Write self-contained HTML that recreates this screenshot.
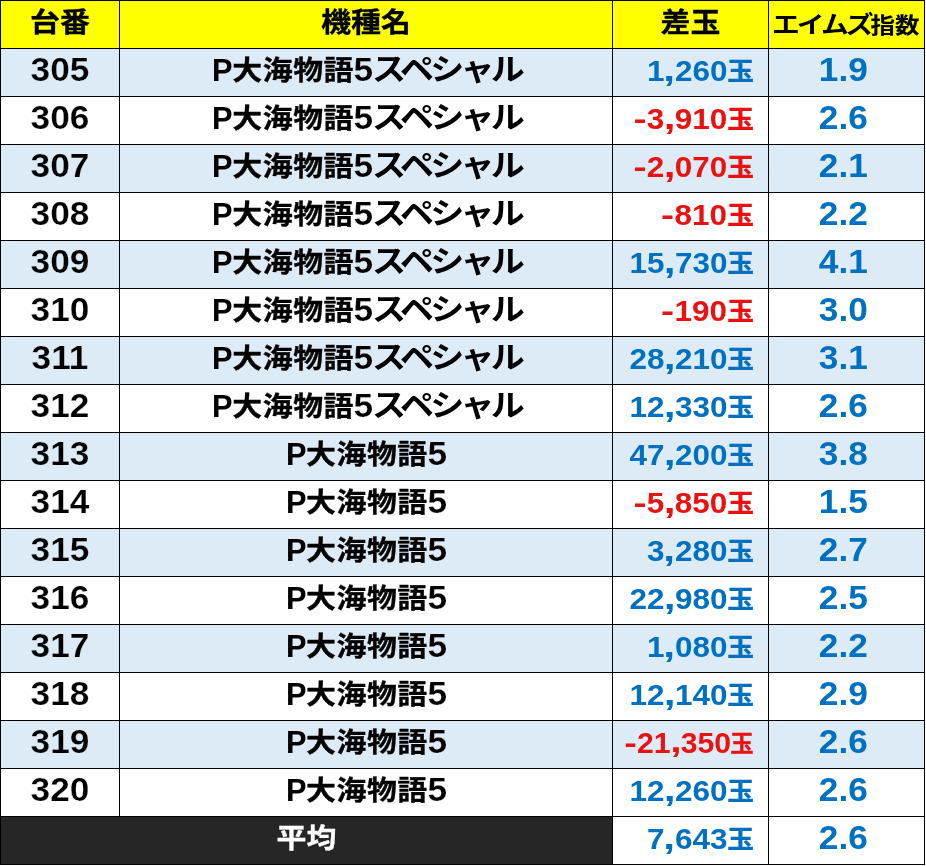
<!DOCTYPE html>
<html lang="ja">
<head>
<meta charset="utf-8">
<title>台番データ</title>
<style>
html,body{margin:0;padding:0;background:#fff;}
body{width:926px;height:866px;overflow:hidden;position:relative;}
#t{position:absolute;left:0;top:0;width:926px;height:866px;background:#fff;
  font-family:"Liberation Sans","Noto Sans CJK JP",sans-serif;font-weight:700;color:#000;}
.r{position:absolute;left:0;width:925px;height:49px;}
.c{position:absolute;top:0;height:49px;box-sizing:border-box;white-space:nowrap;font-size:29.33px;line-height:49px;text-align:center;}
.tx{display:inline-block;vertical-align:top;line-height:49px;height:49px;}
.l{display:inline-block;vertical-align:top;position:relative;top:-3px;font-family:"Liberation Sans",sans-serif;font-weight:700;font-size:1.142em;transform:scaleX(1.052);}
.p{display:inline-block;vertical-align:top;position:relative;top:-2.5px;font-family:"Liberation Sans",sans-serif;font-weight:700;font-size:1.06em;transform:scaleX(0.99);margin:0 -0.01em 0 0.03em;}
.j{display:inline-block;vertical-align:top;position:relative;top:-5.3px;font-family:"Noto Sans CJK JP",sans-serif;font-size:1.02em;transform:scaleY(0.915);transform-origin:50% 75%;-webkit-text-stroke:0.35px currentColor;}
.k{display:inline-block;vertical-align:top;position:relative;top:-6.8px;font-family:"Noto Sans CJK JP",sans-serif;font-size:1.16em;letter-spacing:-0.11em;margin-left:-1.5px;transform:scaleY(0.89);transform-origin:50% 75%;}
.c1{left:0;width:120px;}
.c2{left:119px;width:494px;}
.c3{left:612px;width:157px;}
.c4{left:768px;width:157px;}
.n3{text-align:right;padding-right:15px;font-size:26.2px;color:#0070c0;}
.hy{display:inline-block;transform:scaleX(1.25);margin:0 0.0415em;}
.cm{display:inline-block;transform:scale(1.35,1.12);transform-origin:50% 78%;margin:0 0.03em 0 0.027em;}
.n3 .j{top:-3.9px;}
.n3.sq{font-size:25.15px;}
.n3.sq .l{top:-1.5px;}
.n3.sq .j{transform:scale(0.91,0.93);transform-origin:100% 75%;margin-left:-2.3px;}
.n3 .l{top:-2.5px;}
.h .c4 .j{top:-2.3px;transform:scaleY(0.875);-webkit-text-stroke:0.15px currentColor;}
.h .c4 .k{top:-2.6px;transform:scaleY(0.84);}
.b .c4,.w .c4,.f .c4{color:#0070c0;padding-right:6px;}
.c12{left:0;width:613px;background:#262626;color:#fff;}
.h .c{background:#ffff00;color:#000;}
.h .c4{font-size:24px;}
.b .c{background:#ddebf7;}
.w .c{background:#fff;}
.f .c3,.f .c4{background:#fff;}
.r .neg{color:#ea1111;}
.hl{position:absolute;left:0;width:925px;height:1px;background:#000;}
.vl{position:absolute;top:0;width:1px;height:865px;background:#000;}
.vs{height:817px;}

.b .c1 .l,.b .c2 .l{-webkit-text-stroke:0.2px #ddebf7;}
.w .c1 .l,.w .c2 .l{-webkit-text-stroke:0.2px #fff;}
.b .c2 .j,.w .c2 .j{letter-spacing:0.5px;}
</style>
</head>
<body>
<div id="t">
<div class="r h" style="top:0px"><div class="c c1"><span class="tx"><span class="j">台番</span></span></div><div class="c c2"><span class="tx"><span class="j">機種名</span></span></div><div class="c c3"><span class="tx"><span class="j">差玉</span></span></div><div class="c c4"><span class="tx"><span class="k">エイムズ</span><span class="j">指数</span></span></div></div>
<div class="r b" style="top:48px"><div class="c c1"><span class="tx"><span class="l" style="margin:0 0.043em">305</span></span></div><div class="c c2"><span class="tx"><span class="p">P</span><span class="j">大海物語</span><span class="l" style="margin:0 0.014em">5</span><span class="k">スペシャル</span></span></div><div class="c c3 n3"><span class="tx"><span class="l" style="margin:0 0.067em">1<span class="cm">,</span>260</span><span class="j">玉</span></span></div><div class="c c4"><span class="tx"><span class="l" style="margin:0 0.036em">1.9</span></span></div></div>
<div class="r w" style="top:96px"><div class="c c1"><span class="tx"><span class="l" style="margin:0 0.043em">306</span></span></div><div class="c c2"><span class="tx"><span class="p">P</span><span class="j">大海物語</span><span class="l" style="margin:0 0.014em">5</span><span class="k">スペシャル</span></span></div><div class="c c3 n3 neg"><span class="tx"><span class="l" style="margin:0 0.077em"><span class="hy">-</span>3<span class="cm">,</span>910</span><span class="j">玉</span></span></div><div class="c c4"><span class="tx"><span class="l" style="margin:0 0.036em">2.6</span></span></div></div>
<div class="r b" style="top:144px"><div class="c c1"><span class="tx"><span class="l" style="margin:0 0.043em">307</span></span></div><div class="c c2"><span class="tx"><span class="p">P</span><span class="j">大海物語</span><span class="l" style="margin:0 0.014em">5</span><span class="k">スペシャル</span></span></div><div class="c c3 n3 neg"><span class="tx"><span class="l" style="margin:0 0.077em"><span class="hy">-</span>2<span class="cm">,</span>070</span><span class="j">玉</span></span></div><div class="c c4"><span class="tx"><span class="l" style="margin:0 0.036em">2.1</span></span></div></div>
<div class="r w" style="top:192px"><div class="c c1"><span class="tx"><span class="l" style="margin:0 0.043em">308</span></span></div><div class="c c2"><span class="tx"><span class="p">P</span><span class="j">大海物語</span><span class="l" style="margin:0 0.014em">5</span><span class="k">スペシャル</span></span></div><div class="c c3 n3 neg"><span class="tx"><span class="l" style="margin:0 0.054em"><span class="hy">-</span>810</span><span class="j">玉</span></span></div><div class="c c4"><span class="tx"><span class="l" style="margin:0 0.036em">2.2</span></span></div></div>
<div class="r b" style="top:240px"><div class="c c1"><span class="tx"><span class="l" style="margin:0 0.043em">309</span></span></div><div class="c c2"><span class="tx"><span class="p">P</span><span class="j">大海物語</span><span class="l" style="margin:0 0.014em">5</span><span class="k">スペシャル</span></span></div><div class="c c3 n3"><span class="tx"><span class="l" style="margin:0 0.081em">15<span class="cm">,</span>730</span><span class="j">玉</span></span></div><div class="c c4"><span class="tx"><span class="l" style="margin:0 0.036em">4.1</span></span></div></div>
<div class="r w" style="top:288px"><div class="c c1"><span class="tx"><span class="l" style="margin:0 0.043em">310</span></span></div><div class="c c2"><span class="tx"><span class="p">P</span><span class="j">大海物語</span><span class="l" style="margin:0 0.014em">5</span><span class="k">スペシャル</span></span></div><div class="c c3 n3 neg"><span class="tx"><span class="l" style="margin:0 0.054em"><span class="hy">-</span>190</span><span class="j">玉</span></span></div><div class="c c4"><span class="tx"><span class="l" style="margin:0 0.036em">3.0</span></span></div></div>
<div class="r b" style="top:336px"><div class="c c1"><span class="tx"><span class="l" style="margin:0 0.043em">311</span></span></div><div class="c c2"><span class="tx"><span class="p">P</span><span class="j">大海物語</span><span class="l" style="margin:0 0.014em">5</span><span class="k">スペシャル</span></span></div><div class="c c3 n3"><span class="tx"><span class="l" style="margin:0 0.081em">28<span class="cm">,</span>210</span><span class="j">玉</span></span></div><div class="c c4"><span class="tx"><span class="l" style="margin:0 0.036em">3.1</span></span></div></div>
<div class="r w" style="top:384px"><div class="c c1"><span class="tx"><span class="l" style="margin:0 0.043em">312</span></span></div><div class="c c2"><span class="tx"><span class="p">P</span><span class="j">大海物語</span><span class="l" style="margin:0 0.014em">5</span><span class="k">スペシャル</span></span></div><div class="c c3 n3"><span class="tx"><span class="l" style="margin:0 0.081em">12<span class="cm">,</span>330</span><span class="j">玉</span></span></div><div class="c c4"><span class="tx"><span class="l" style="margin:0 0.036em">2.6</span></span></div></div>
<div class="r b" style="top:432px"><div class="c c1"><span class="tx"><span class="l" style="margin:0 0.043em">313</span></span></div><div class="c c2"><span class="tx"><span class="p">P</span><span class="j">大海物語</span><span class="l" style="margin:0 0.014em">5</span></span></div><div class="c c3 n3"><span class="tx"><span class="l" style="margin:0 0.081em">47<span class="cm">,</span>200</span><span class="j">玉</span></span></div><div class="c c4"><span class="tx"><span class="l" style="margin:0 0.036em">3.8</span></span></div></div>
<div class="r w" style="top:480px"><div class="c c1"><span class="tx"><span class="l" style="margin:0 0.043em">314</span></span></div><div class="c c2"><span class="tx"><span class="p">P</span><span class="j">大海物語</span><span class="l" style="margin:0 0.014em">5</span></span></div><div class="c c3 n3 neg"><span class="tx"><span class="l" style="margin:0 0.077em"><span class="hy">-</span>5<span class="cm">,</span>850</span><span class="j">玉</span></span></div><div class="c c4"><span class="tx"><span class="l" style="margin:0 0.036em">1.5</span></span></div></div>
<div class="r b" style="top:528px"><div class="c c1"><span class="tx"><span class="l" style="margin:0 0.043em">315</span></span></div><div class="c c2"><span class="tx"><span class="p">P</span><span class="j">大海物語</span><span class="l" style="margin:0 0.014em">5</span></span></div><div class="c c3 n3"><span class="tx"><span class="l" style="margin:0 0.067em">3<span class="cm">,</span>280</span><span class="j">玉</span></span></div><div class="c c4"><span class="tx"><span class="l" style="margin:0 0.036em">2.7</span></span></div></div>
<div class="r w" style="top:576px"><div class="c c1"><span class="tx"><span class="l" style="margin:0 0.043em">316</span></span></div><div class="c c2"><span class="tx"><span class="p">P</span><span class="j">大海物語</span><span class="l" style="margin:0 0.014em">5</span></span></div><div class="c c3 n3"><span class="tx"><span class="l" style="margin:0 0.081em">22<span class="cm">,</span>980</span><span class="j">玉</span></span></div><div class="c c4"><span class="tx"><span class="l" style="margin:0 0.036em">2.5</span></span></div></div>
<div class="r b" style="top:624px"><div class="c c1"><span class="tx"><span class="l" style="margin:0 0.043em">317</span></span></div><div class="c c2"><span class="tx"><span class="p">P</span><span class="j">大海物語</span><span class="l" style="margin:0 0.014em">5</span></span></div><div class="c c3 n3"><span class="tx"><span class="l" style="margin:0 0.067em">1<span class="cm">,</span>080</span><span class="j">玉</span></span></div><div class="c c4"><span class="tx"><span class="l" style="margin:0 0.036em">2.2</span></span></div></div>
<div class="r w" style="top:672px"><div class="c c1"><span class="tx"><span class="l" style="margin:0 0.043em">318</span></span></div><div class="c c2"><span class="tx"><span class="p">P</span><span class="j">大海物語</span><span class="l" style="margin:0 0.014em">5</span></span></div><div class="c c3 n3"><span class="tx"><span class="l" style="margin:0 0.081em">12<span class="cm">,</span>140</span><span class="j">玉</span></span></div><div class="c c4"><span class="tx"><span class="l" style="margin:0 0.036em">2.9</span></span></div></div>
<div class="r b" style="top:720px"><div class="c c1"><span class="tx"><span class="l" style="margin:0 0.043em">319</span></span></div><div class="c c2"><span class="tx"><span class="p">P</span><span class="j">大海物語</span><span class="l" style="margin:0 0.014em">5</span></span></div><div class="c c3 n3 neg sq"><span class="tx"><span class="l" style="margin:0 0.092em"><span class="hy">-</span>21<span class="cm">,</span>350</span><span class="j">玉</span></span></div><div class="c c4"><span class="tx"><span class="l" style="margin:0 0.036em">2.6</span></span></div></div>
<div class="r w" style="top:768px"><div class="c c1"><span class="tx"><span class="l" style="margin:0 0.043em">320</span></span></div><div class="c c2"><span class="tx"><span class="p">P</span><span class="j">大海物語</span><span class="l" style="margin:0 0.014em">5</span></span></div><div class="c c3 n3"><span class="tx"><span class="l" style="margin:0 0.081em">12<span class="cm">,</span>260</span><span class="j">玉</span></span></div><div class="c c4"><span class="tx"><span class="l" style="margin:0 0.036em">2.6</span></span></div></div>
<div class="r f" style="top:816px"><div class="c c12"><span class="tx"><span class="j">平均</span></span></div><div class="c c3 n3"><span class="tx"><span class="l" style="margin:0 0.067em">7<span class="cm">,</span>643</span><span class="j">玉</span></span></div><div class="c c4"><span class="tx"><span class="l" style="margin:0 0.036em">2.6</span></span></div></div>
<div class="hl" style="top:0px"></div><div class="hl" style="top:48px"></div><div class="hl" style="top:96px"></div><div class="hl" style="top:144px"></div><div class="hl" style="top:192px"></div><div class="hl" style="top:240px"></div><div class="hl" style="top:288px"></div><div class="hl" style="top:336px"></div><div class="hl" style="top:384px"></div><div class="hl" style="top:432px"></div><div class="hl" style="top:480px"></div><div class="hl" style="top:528px"></div><div class="hl" style="top:576px"></div><div class="hl" style="top:624px"></div><div class="hl" style="top:672px"></div><div class="hl" style="top:720px"></div><div class="hl" style="top:768px"></div><div class="hl" style="top:816px"></div><div class="hl" style="top:864px"></div>
<div class="vl" style="left:0px"></div><div class="vl vs" style="left:119px"></div><div class="vl" style="left:612px"></div><div class="vl" style="left:768px"></div><div class="vl" style="left:924px"></div>
</div>
</body>
</html>
